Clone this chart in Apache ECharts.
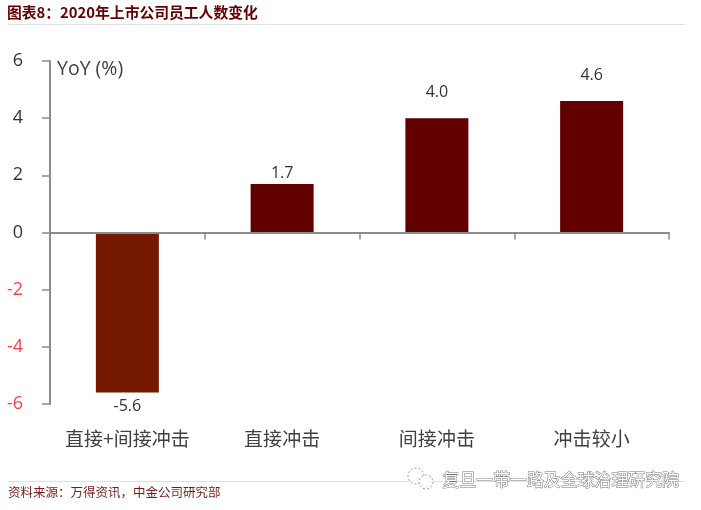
<!DOCTYPE html>
<html><head><meta charset="utf-8">
<style>html,body{margin:0;padding:0;background:#fff}#c{width:701px;height:510px}</style>
<script src="https://cdn.jsdelivr.net/npm/echarts@6/dist/echarts.min.js"></script></head>
<body><div id="c"></div>
<script>
const categories = ['直接+间接冲击','直接冲击','间接冲击','冲击较小'];
const values = [-5.6,1.7,4.0,4.6];
const valueLabels = ['-5.6','1.7','4.0','4.6'];
const titleText = '图表8：2020年上市公司员工人数变化';
const sourceText = '资料来源：万得资讯，中金公司研究部';
const watermarkText = '复旦一带一路及全球治理研究院';
const yTitle = 'YoY (%)';
const barColors = ['#751900','#620000','#620000','#620000'];
const labelGaps = [6,2,18,18];
const cjk = '"Noto Sans CJK SC","Noto Sans",sans-serif';
const chart = echarts.init(document.getElementById('c'),null,{renderer:'canvas'});
chart.setOption({
  animation:false,
  backgroundColor:'#fff',
  grid:{left:50,right:32,top:61,height:343},
  xAxis:{type:'category',data:categories,z:3,
    axisLine:{onZero:true,lineStyle:{color:'#8c8c8c',width:2}},
    axisTick:{show:true,alignWithLabel:false,length:7,lineStyle:{color:'#8c8c8c',width:1.5}},
    axisLabel:{interval:0,fontFamily:cjk,fontSize:19,color:'#404040',margin:25}
  },
  yAxis:{type:'value',min:-6,max:6,interval:2,z:3,
    axisLine:{show:true,lineStyle:{color:'#8c8c8c',width:2}},
    axisTick:{show:true,length:8,lineStyle:{color:'#8c8c8c',width:1.5}},
    splitLine:{show:false},
    axisLabel:{fontFamily:'"Open Sans",sans-serif',fontSize:18,margin:27,
      color:v=>v<0?'#FF4040':'#333'}
  },
  series:[{type:'bar',barWidth:63,
    data:values.map((v,i)=>({value:v,itemStyle:{color:barColors[i]},
      label:{show:true,position:v<0?'bottom':'top',distance:labelGaps[i],formatter:valueLabels[i],
        fontFamily:'"Open Sans",sans-serif',fontSize:16,color:'#333'}}))
  }],
  graphic:[
    {type:'text',left:7,top:5,style:{text:titleText,font:'bold 14.8px '+cjk,fill:'#660000'}},
    {type:'rect',shape:{x:8,y:24,width:677,height:1},style:{fill:'#e0e0e0'}},
    {type:'text',left:57,top:59,style:{text:yTitle,font:'19.5px "Open Sans",sans-serif',fill:'#404040'}},
    {type:'rect',shape:{x:8,y:481,width:677,height:1},style:{fill:'#e0e0e0'}},
    {type:'text',left:8,top:486,style:{text:sourceText,font:'12.5px '+cjk,fill:'#7a1a1a'}},
    {type:'circle',shape:{cx:416,cy:476,r:8},style:{fill:'#fff',stroke:'#999',lineWidth:1,lineDash:[2,2]}},
    {type:'circle',shape:{cx:426,cy:482,r:7},style:{fill:'#fff',stroke:'#999',lineWidth:1,lineDash:[2,2]}},
    {type:'text',left:442,top:471,style:{text:watermarkText,font:'16.9px '+cjk,fill:'#fff',stroke:'#777',lineWidth:1}}
  ]
});
</script></body></html>
